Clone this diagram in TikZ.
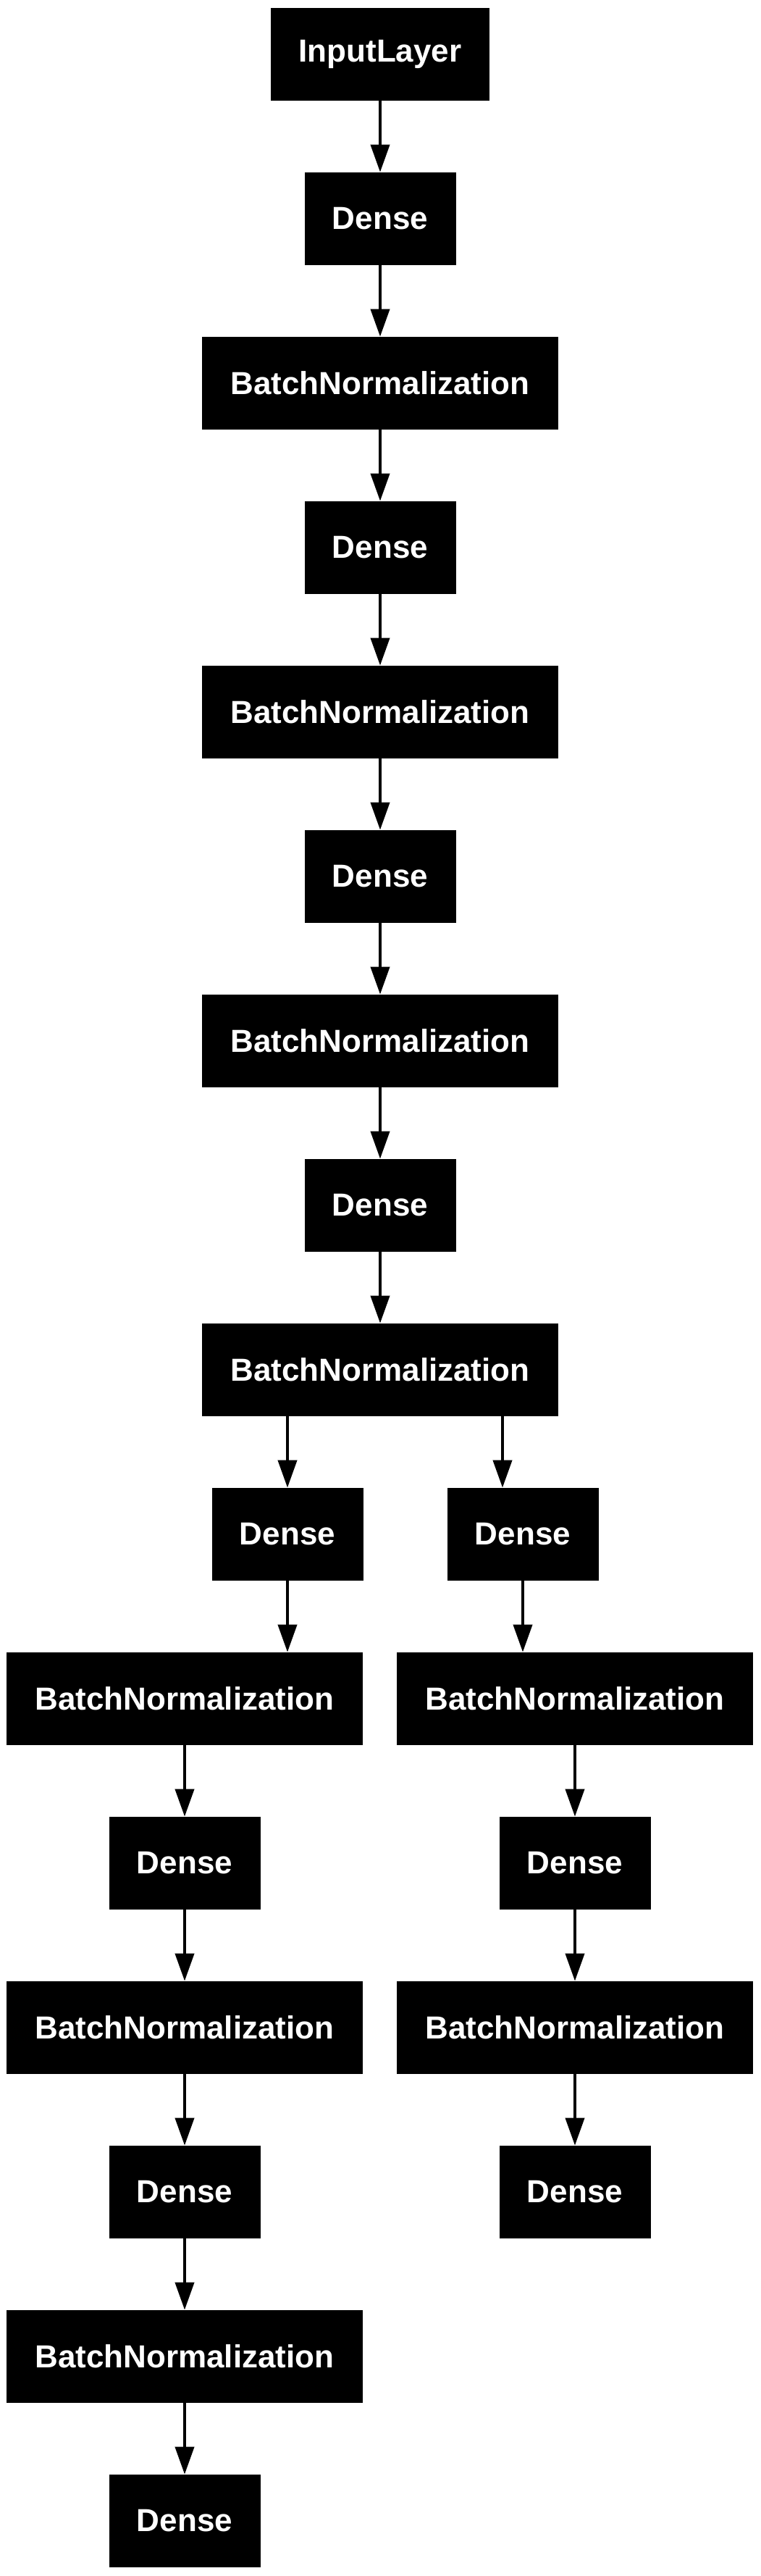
\documentclass[tikz,border=0pt]{standalone}
\usepackage{fontspec}
\setmainfont{Liberation Sans}
\usetikzlibrary{arrows.meta}

\newlength{\du}
\setlength{\du}{0.5pt}

\tikzset{
  layerbox/.style={draw=black, fill=black, text=white, inner sep=0pt,
    font=\bfseries\fontsize{22}{26}\selectfont, minimum height=127\du},
  inputlayer/.style={layerbox, minimum width=301\du},
  denselayer/.style={layerbox, minimum width=208\du},
  bnlayer/.style={layerbox, minimum width=491\du},
  flow/.style={line width=2pt, -{Triangle[length=19pt,width=13pt]}}
}

\begin{document}
\begin{tikzpicture}
\pgftransformxscale{1.000000}
\pgftransformyscale{-1.000000}
\fill[white] (0\du,0\du) rectangle (1050\du,3556\du);
\useasboundingbox (0\du,0\du) rectangle (1050\du,3556\du);
% main column
\node[inputlayer] (input) at (525\du,74.5\du){InputLayer};
\node[denselayer] (dense1) at (525\du,301.5\du){Dense};
\node[bnlayer] (bn1) at (525\du,528.5\du){BatchNormalization};
\node[denselayer] (dense2) at (525\du,755.5\du){Dense};
\node[bnlayer] (bn2) at (525\du,982.5\du){BatchNormalization};
\node[denselayer] (dense3) at (525\du,1209.5\du){Dense};
\node[bnlayer] (bn3) at (525\du,1436.5\du){BatchNormalization};
\node[denselayer] (dense4) at (525\du,1663.5\du){Dense};
\node[bnlayer] (bn4) at (525\du,1890.5\du){BatchNormalization};
% left branch
\node[denselayer] (denseL1) at (397\du,2117.5\du){Dense};
\node[bnlayer] (bnL1) at (255\du,2344.5\du){BatchNormalization};
\node[denselayer] (denseL2) at (255\du,2571.5\du){Dense};
\node[bnlayer] (bnL2) at (255\du,2798.5\du){BatchNormalization};
\node[denselayer] (denseL3) at (255\du,3025.5\du){Dense};
\node[bnlayer] (bnL3) at (255\du,3252.5\du){BatchNormalization};
\node[denselayer] (denseL4) at (255\du,3479.5\du){Dense};
% right branch
\node[denselayer] (denseR1) at (722\du,2117.5\du){Dense};
\node[bnlayer] (bnR1) at (794\du,2344.5\du){BatchNormalization};
\node[denselayer] (denseR2) at (794\du,2571.5\du){Dense};
\node[bnlayer] (bnR2) at (794\du,2798.5\du){BatchNormalization};
\node[denselayer] (denseR3) at (794\du,3025.5\du){Dense};
% edges
\foreach \src/\dst in {input/dense1, dense1/bn1, bn1/dense2, dense2/bn2, bn2/dense3,
  dense3/bn3, bn3/dense4, dense4/bn4, bnL1/denseL2, denseL2/bnL2, bnL2/denseL3,
  denseL3/bnL3, bnL3/denseL4, bnR1/denseR2, denseR2/bnR2, bnR2/denseR3}
  \draw[flow] (\src.south) -- (\dst.north);
\draw[flow] (denseL1.north |- bn4.south) -- (denseL1.north);
\draw[flow] ([xshift=-28\du]denseR1.north |- bn4.south) -- ([xshift=-28\du]denseR1.north);
\draw[flow] (denseL1.south) -- (denseL1.south |- bnL1.north);
\draw[flow] (denseR1.south) -- (denseR1.south |- bnR1.north);
\end{tikzpicture}
\end{document}
